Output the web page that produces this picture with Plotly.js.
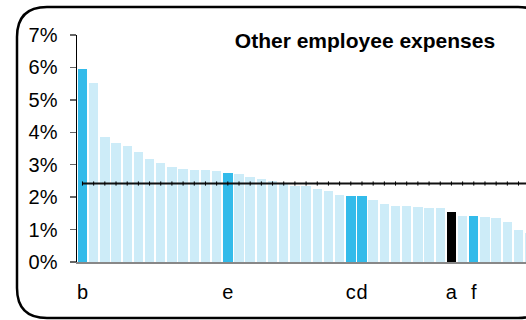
<!DOCTYPE html>
<html>
<head>
<meta charset="utf-8">
<script src="https://cdn.plot.ly/plotly-3.0.1.min.js"></script>
<style>
html,body{margin:0;padding:0;background:#fff;overflow:hidden;}
#chart{width:526px;height:320px;}
</style>
</head>
<body>
<div id="chart"></div>
<script>
// Data (values in %)
const barLabels = ['b','','','','','','','','','','','','','e','','','','','','','','','','','c','d','','','','','','','','a','','f','','','','',''];
const barValues = [5.95,5.52,3.85,3.66,3.57,3.39,3.17,3.05,2.92,2.86,2.83,2.83,2.80,2.74,2.71,2.62,2.55,2.49,2.44,2.34,2.34,2.25,2.19,2.06,2.03,2.03,1.90,1.78,1.72,1.72,1.69,1.66,1.66,1.53,1.41,1.41,1.38,1.35,1.23,0.98,0.89];
const averageValue = 2.42;
const yTicks = [0,1,2,3,4,5,6,7];
const chartTitle = 'Other employee expenses';

const LIGHT = '#cdecf8', BLUE = '#33bbea', BLACK = '#000000';
const idx = barValues.map((_, i) => i);
const colors = barLabels.map(l => l === 'a' ? BLACK : (l ? BLUE : LIGHT));
const tickvals = idx.filter(i => barLabels[i]);
const ticktext = tickvals.map(i => barLabels[i]);

const W = 526, H = 320, L = 77, R = 0, T = 35, B = 58;
const pw = W - L - R, ph = H - T - B;
const px = x => (x - L) / pw;
const py = y => (H - B - y) / ph;

// rounded frame (decoration)
const fx0 = 17, fy0 = 7, fx1 = 548, fy1 = 318, rad = 30;
function P(x, y) { return px(x) + ',' + py(y); }
const framePath = 'M' + P(fx0 + rad, fy0) + ' L' + P(fx1 - rad, fy0) +
  ' Q' + P(fx1, fy0) + ' ' + P(fx1, fy0 + rad) +
  ' L' + P(fx1, fy1 - rad) + ' Q' + P(fx1, fy1) + ' ' + P(fx1 - rad, fy1) +
  ' L' + P(fx0 + rad, fy1) + ' Q' + P(fx0, fy1) + ' ' + P(fx0, fy1 - rad) +
  ' L' + P(fx0, fy0 + rad) + ' Q' + P(fx0, fy0) + ' ' + P(fx0 + rad, fy0) + ' Z';

const lineX = [];
for (let i = 0; i <= barValues.length + 3; i++) lineX.push(i);

const traces = [
  {
    type: 'bar', x: idx, y: barValues, width: 0.84,
    marker: {color: colors, line: {width: 0}},
    hoverinfo: 'skip', showlegend: false
  },
  {
    type: 'scatter', mode: 'lines+markers', x: lineX, y: lineX.map(() => averageValue),
    line: {color: '#111', width: 2.2},
    marker: {symbol: 'line-ns', size: 3, line: {color: '#000', width: 1}},
    hoverinfo: 'skip', showlegend: false, cliponaxis: true
  }
];

const FONT = 'Liberation Sans, Arial, sans-serif';
const layout = {
  width: W, height: H,
  margin: {l: L, r: R, t: T, b: B, pad: 0},
  paper_bgcolor: '#fff', plot_bgcolor: '#fff',
  font: {family: FONT, size: 20, color: '#000'},
  title: {
    text: '<b>' + chartTitle + '</b>',
    font: {family: FONT, size: 21, color: '#000'},
    x: px(365), xref: 'paper', xanchor: 'center',
    y: 1 - 41 / H, yref: 'container', yanchor: 'middle'
  },
  bargap: 0,
  xaxis: {
    range: [-0.49, 39.67], showgrid: false, zeroline: false,
    showline: true, linecolor: '#888', linewidth: 2,
    tickmode: 'array', tickvals: tickvals, ticktext: ticktext,
    tickangle: 0, automargin: false,
    ticks: '', ticklabelstandoff: 11,
    tickfont: {family: FONT, size: 20, color: '#000'}
  },
  yaxis: {
    range: [0, 7], tickmode: 'array', tickvals: yTicks,
    ticktext: yTicks.map(v => v + '%'),
    showgrid: false, zeroline: false,
    showline: true, linecolor: '#000', linewidth: 1.5,
    ticks: 'outside', ticklen: 6, tickwidth: 1.5, tickcolor: '#666',
    ticklabelstandoff: 8, automargin: false,
    tickfont: {family: FONT, size: 20, color: '#000'}
  },
  shapes: [{
    type: 'path', xref: 'paper', yref: 'paper', path: framePath,
    line: {color: '#000', width: 2.5}, fillcolor: 'rgba(0,0,0,0)', layer: 'above'
  }]
};

Plotly.newPlot('chart', traces, layout, {displayModeBar: false, staticPlot: true});
</script>
</body>
</html>
